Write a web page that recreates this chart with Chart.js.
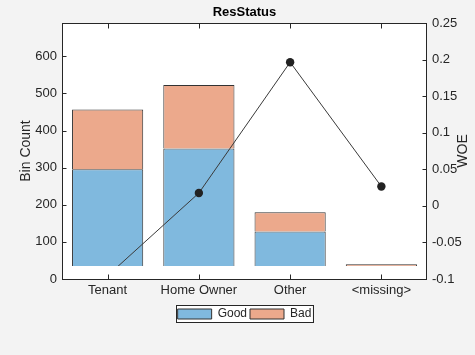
<!DOCTYPE html>
<html><head><meta charset="utf-8">
<script src="https://cdn.jsdelivr.net/npm/chart.js@4.4.1/dist/chart.umd.min.js"></script>
<style>html,body{margin:0;padding:0;background:#f3f3f3;} #wrap{width:475px;height:355px;position:relative;}</style>
</head><body><div id="wrap"><canvas id="c" width="475" height="355"></canvas></div>
<script>
const categories = ['Tenant', 'Home Owner', 'Other', '<missing>'];
const goodCounts = [296, 352, 128, 27];
const badCounts = [161, 171, 52, 13];
const woeValues = [-0.095463, 0.017549, 0.19637, 0.026469];
const countTicks = [0, 100, 200, 300, 400, 500, 600];
const woeTicks = [-0.1, -0.05, 0, 0.05, 0.1, 0.15, 0.2, 0.25];
const countRange = [0, 690];
const woeRange = [-0.1, 0.25];

const FONT = '"Liberation Sans", Arial, Helvetica, sans-serif';
const AX = '#262626';
const blue = '#80b9de';
const orange = '#eca98c';
const clipArea = {left: 0, top: 0, right: 0, bottom: -13};

const badRanges = goodCounts.map((g, i) => [g, g + badCounts[i]]);

const decor = {
  id: 'decor',
  beforeDraw(chart) {
    const ctx = chart.ctx;
    const lg = chart.legend;
    if (lg && lg.legendHitBoxes && lg.legendHitBoxes.length) {
      const b = legendBounds(lg);
      ctx.save();
      ctx.fillStyle = '#ffffff';
      ctx.fillRect(b.x, b.y, b.w, b.h);
      ctx.restore();
    }
    const a = chart.chartArea;
    ctx.save();
    ctx.fillStyle = '#ffffff';
    ctx.fillRect(a.left, a.top, a.right - a.left, a.bottom - a.top);
    ctx.restore();
  },
  afterDraw(chart) {
    const ctx = chart.ctx;
    const a = chart.chartArea;
    const L = Math.round(a.left) + 0.5, R = Math.round(a.right) - 0.5;
    const T = Math.round(a.top) + 0.5, B = Math.round(a.bottom) + 0.5;
    ctx.save();
    ctx.strokeStyle = AX;
    ctx.lineWidth = 1;
    ctx.strokeRect(L, T, R - L, B - T);
    ctx.beginPath();
    const y = chart.scales.y, y2 = chart.scales.y2, x = chart.scales.x;
    y.ticks.forEach(t => { const p = Math.round(y.getPixelForValue(t.value)) + 0.5; ctx.moveTo(L, p); ctx.lineTo(L + 4, p); });
    y2.ticks.forEach(t => { const p = Math.round(y2.getPixelForValue(t.value)) + 0.5; ctx.moveTo(R, p); ctx.lineTo(R - 4, p); });
    categories.forEach((c, i) => { const p = Math.round(x.getPixelForValue(i)) + 0.5; ctx.moveTo(p, B); ctx.lineTo(p, B - 5); ctx.moveTo(p, T); ctx.lineTo(p, T + 5); });
    ctx.stroke();
    // right axis title
    ctx.fillStyle = AX;
    ctx.font = '14px ' + FONT;
    ctx.textAlign = 'center';
    ctx.textBaseline = 'middle';
    ctx.translate(463, (a.top + a.bottom) / 2);
    ctx.rotate(-Math.PI / 2);
    ctx.fillText('WOE', 0, 0);
    ctx.restore();
    const lg = chart.legend;
    if (lg && lg.legendHitBoxes && lg.legendHitBoxes.length) {
      const b = legendBounds(lg);
      ctx.save();
      ctx.strokeStyle = AX;
      ctx.lineWidth = 1;
      ctx.strokeRect(Math.round(b.x) + 0.5, Math.round(b.y) + 0.5, Math.round(b.w), Math.round(b.h));
      ctx.restore();
    }
  }
};
function legendBounds(lg) {
  let x0 = Infinity, x1 = -Infinity, y0 = Infinity, y1 = -Infinity;
  lg.legendHitBoxes.forEach(h => { x0 = Math.min(x0, h.left); x1 = Math.max(x1, h.left + h.width); y0 = Math.min(y0, h.top); y1 = Math.max(y1, h.top + h.height); });
  return {x: x0 - 2, y: y0 - 3, w: x1 - x0 + 3, h: y1 - y0 + 5};
}

new Chart(document.getElementById('c'), {
  type: 'bar',
  data: {
    labels: categories,
    datasets: [
      {label: 'WOE', type: 'line', data: woeValues, yAxisID: 'y2', order: 0,
       borderColor: '#3a3a3a', borderWidth: 1, pointRadius: 4.2, pointBackgroundColor: '#222',
       pointBorderColor: '#222', pointBorderWidth: 0, tension: 0, clip: clipArea},
      {label: 'Good', data: goodCounts, backgroundColor: blue, borderColor: '#333', borderWidth: 1,
       grouped: false, yAxisID: 'y', order: 2, barPercentage: 1, categoryPercentage: 0.78, clip: clipArea},
      {label: 'Bad', data: badRanges, backgroundColor: orange, borderColor: '#333', borderWidth: 1,
       grouped: false, yAxisID: 'y', order: 1, barPercentage: 1, categoryPercentage: 0.78, clip: clipArea}
    ]
  },
  options: {
    responsive: false,
    animation: false,
    devicePixelRatio: 1,
    layout: {padding: {left: 14, right: 0, top: 0, bottom: 25}},
    plugins: {
      tooltip: {enabled: false},
      title: {display: true, text: 'ResStatus', color: '#000', font: {family: FONT, size: 13, weight: 'bold'},
              padding: {top: 5, bottom: 2.4}},
      legend: {
        position: 'bottom',
        labels: {
          filter: item => item.text !== 'WOE',
          sort: (a, b) => a.datasetIndex - b.datasetIndex,
          boxWidth: 34, boxHeight: 10, padding: 3,
          color: AX, font: {family: FONT, size: 12}
        }
      }
    },
    scales: {
      x: {
        type: 'category', offset: true,
        grid: {display: false, drawTicks: false},
        border: {display: false},
        ticks: {color: AX, font: {family: FONT, size: 13}, padding: 4, maxRotation: 0, autoSkip: false},
        afterFit: s => { s.height = 26; }
      },
      y: {
        position: 'left', min: countRange[0], max: countRange[1],
        grid: {display: false, drawTicks: false},
        border: {display: false},
        afterBuildTicks: s => { s.ticks = countTicks.map(v => ({value: v})); },
        ticks: {color: AX, font: {family: FONT, size: 13}, padding: 5},
        title: {display: true, text: 'Bin Count', color: AX, font: {family: FONT, size: 14}, padding: {top: 4, bottom: 0}},
        afterFit: s => { s.width = 48; }
      },
      y2: {
        position: 'right', min: woeRange[0], max: woeRange[1],
        grid: {display: false, drawTicks: false},
        border: {display: false},
        afterBuildTicks: s => { s.ticks = woeTicks.map(v => ({value: v})); },
        ticks: {color: AX, font: {family: FONT, size: 13}, padding: 5,
                callback: v => String(+Number(v).toFixed(2))},
        afterFit: s => { s.width = 48; }
      }
    }
  },
  plugins: [decor]
});
</script></body></html>
